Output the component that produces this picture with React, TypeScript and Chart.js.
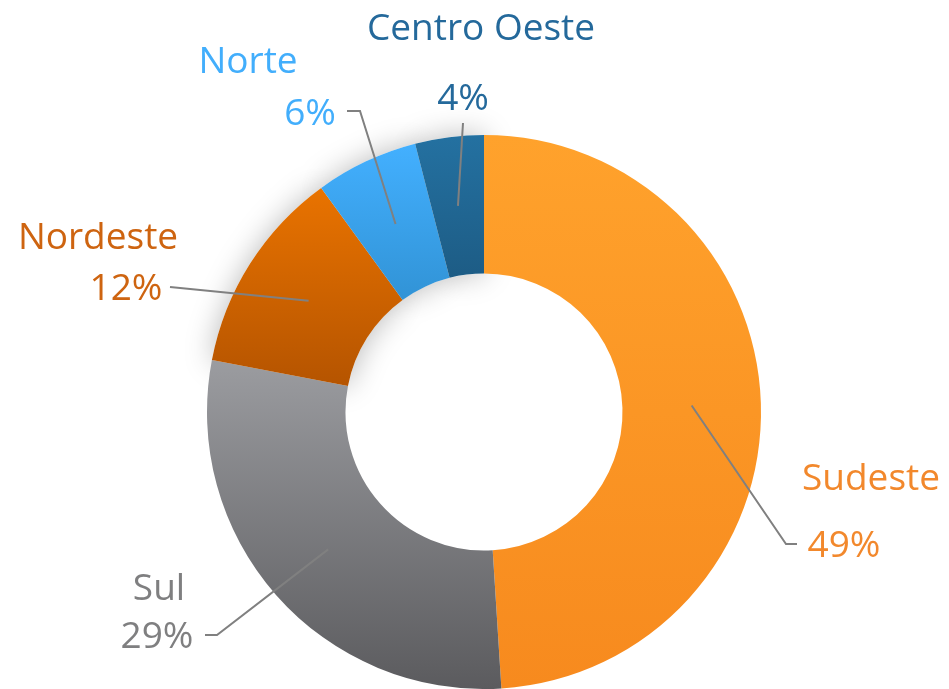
import React, { useEffect, useRef } from "react";
import { Chart, registerables } from "chart.js";

Chart.register(...registerables);

const regions = ["Sudeste", "Sul", "Nordeste", "Norte", "Centro Oeste"];
const shares = [49, 29, 12, 6, 4];
const percentLabels = ["49%", "29%", "12%", "6%", "4%"];
const topColors = ["#FFA22C", "#9B9CA0", "#E97300", "#43B0FF", "#2471A1"];
const bottomColors = ["#F78A1E", "#5B5B5E", "#B55400", "#3193D6", "#1D5C85"];
const textColors = ["#F2882C", "#7F7F80", "#CE6410", "#42AEFC", "#24699B"];

// label layout relative to donut center: elbow point, line end, name pos, pct pos
const labelLayout = [
  { elbow: [302, 132], end: [313, 132], name: [387, 78], pct: [360, 145] },
  { elbow: [-267, 223], end: [-279, 223], name: [-325, 188], pct: [-327, 236] },
  { elbow: [-314, -125], end: [-314, -125], name: [-386, -163], pct: [-358, -112] },
  { elbow: [-124, -301], end: [-137, -301], name: [-236, -339], pct: [-174, -287] },
  { elbow: [-21, -289], end: [-21, -289], name: [-3, -372], pct: [-21, -302] },
];

function sliceGradient(chart: any, index: number) {
  const area = chart.chartArea;
  if (!area) return topColors[index];
  const cx = (area.left + area.right) / 2;
  const cy = (area.top + area.bottom) / 2;
  const R = Math.min(area.right - area.left, area.bottom - area.top) / 2;
  const r = R * 0.5;
  const total = shares.reduce((a, b) => a + b, 0);
  const before = shares.slice(0, index).reduce((a, b) => a + b, 0);
  const a0 = -Math.PI / 2 + (before / total) * Math.PI * 2;
  const a1 = a0 + (shares[index] / total) * Math.PI * 2;
  let minY = Infinity;
  let maxY = -Infinity;
  for (let k = 0; k <= 60; k++) {
    const a = a0 + ((a1 - a0) * k) / 60;
    for (const rr of [r, R]) {
      const y = cy + rr * Math.sin(a);
      minY = Math.min(minY, y);
      maxY = Math.max(maxY, y);
    }
  }
  const g = chart.ctx.createLinearGradient(0, minY, 0, maxY);
  g.addColorStop(0, topColors[index]);
  g.addColorStop(1, bottomColors[index]);
  return g;
}

const shadowPlugin = {
  id: "sliceShadow",
  beforeDatasetsDraw(chart: any) {
    const meta = chart.getDatasetMeta(0);
    const ctx = chart.ctx;
    ctx.save();
    ctx.shadowColor = "rgba(0,0,0,0.28)";
    ctx.shadowBlur = 30;
    ctx.fillStyle = "#ffffff";
    [2, 3, 4].forEach((i) => {
      const arc = meta.data[i];
      if (!arc) return;
      const { x, y, startAngle, endAngle, innerRadius, outerRadius } = arc;
      ctx.beginPath();
      ctx.arc(x, y, outerRadius, startAngle, endAngle);
      ctx.arc(x, y, innerRadius, endAngle, startAngle, true);
      ctx.closePath();
      ctx.fill();
    });
    ctx.restore();
  },
};

const labelPlugin = {
  id: "leaderLabels",
  afterDatasetsDraw(chart: any) {
    const meta = chart.getDatasetMeta(0);
    const ctx = chart.ctx;
    ctx.save();
    meta.data.forEach((arc: any, i: number) => {
      const { x, y, startAngle, endAngle, innerRadius, outerRadius } = arc;
      const mid = (startAngle + endAngle) / 2;
      const rm = (innerRadius + outerRadius) / 2;
      const ax = x + rm * Math.cos(mid);
      const ay = y + rm * Math.sin(mid);
      const L = labelLayout[i];
      ctx.strokeStyle = "#808080";
      ctx.lineWidth = 2;
      ctx.beginPath();
      ctx.moveTo(ax, ay);
      ctx.lineTo(x + L.elbow[0], y + L.elbow[1]);
      ctx.lineTo(x + L.end[0], y + L.end[1]);
      ctx.stroke();
      ctx.fillStyle = textColors[i];
      ctx.font = '400 37px "Open Sans"';
      ctx.textAlign = "center";
      ctx.textBaseline = "alphabetic";
      ctx.fillText(regions[i], x + L.name[0], y + L.name[1]);
      ctx.fillText(percentLabels[i], x + L.pct[0], y + L.pct[1]);
    });
    ctx.restore();
  },
};

export default function App() {
  const ref = useRef<HTMLCanvasElement | null>(null);
  useEffect(() => {
    if (!ref.current) return;
    const chart = new Chart(ref.current, {
      type: "doughnut",
      data: {
        labels: regions,
        datasets: [
          {
            data: shares,
            backgroundColor: (c: any) => sliceGradient(c.chart, c.dataIndex),
            borderWidth: 0,
            offset: 0,
            hoverOffset: 0,
          },
        ],
      },
      options: {
        responsive: false,
        animation: false,
        events: [],
        cutout: "50%",
        layout: { padding: { left: 207, right: 188, top: 135, bottom: 0 } },
        plugins: { legend: { display: false }, tooltip: { enabled: false } },
      },
      plugins: [shadowPlugin, labelPlugin],
    });
    return () => chart.destroy();
  }, []);
  return (
    <div style={{ position: "absolute", left: 0, top: 0, width: 949, height: 689, background: "#fff" }}>
      <canvas ref={ref} width={949} height={689} />
    </div>
  );
}
